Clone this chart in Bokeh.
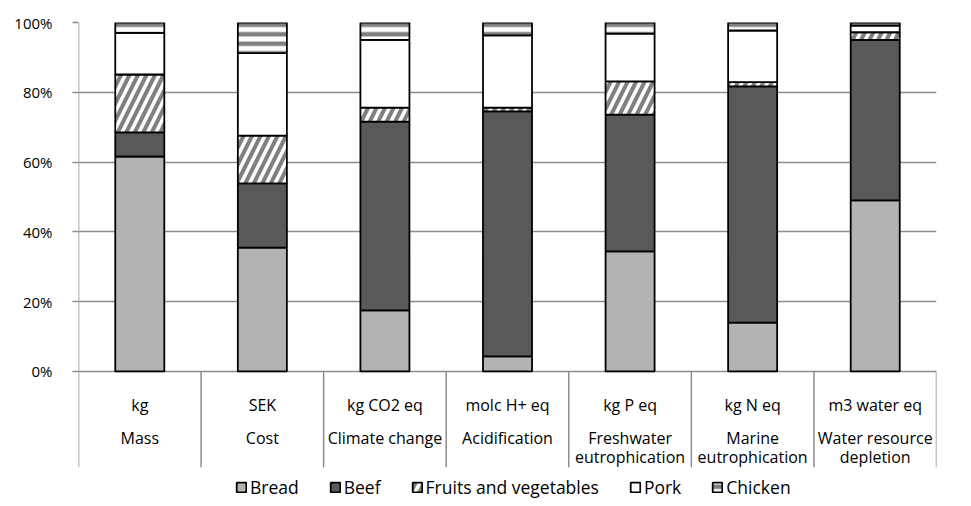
from bokeh.plotting import figure
from bokeh.models import (FactorRange, Range1d, FixedTicker, Legend, LegendItem,
                          ColumnDataSource)
from bokeh.core.properties import value
from bokeh.transform import stack, dodge
from bokeh.embed import file_html
from bokeh.resources import INLINE

# ---- data ----
categories = ["Mass", "Cost", "Climate change", "Acidification",
              "Freshwater eutrophication", "Marine eutrophication",
              "Water resource depletion"]
units = ["kg", "SEK", "kg CO2 eq", "molc H+ eq", "kg P eq", "kg N eq", "m3 water eq"]
name_line1 = ["Mass", "Cost", "Climate change", "Acidification",
              "Freshwater", "Marine", "Water resource"]
name_line2 = ["", "", "", "", "eutrophication", "eutrophication", "depletion"]

series = ["Bread", "Beef", "Fruits and vegetables", "Pork", "Chicken"]
bread = [61.6, 35.5, 17.5, 4.3, 34.4, 14.0, 49.0]
beef = [6.9, 18.4, 54.1, 70.2, 39.2, 67.7, 46.0]
fruits = [16.6, 13.7, 4.0, 1.1, 9.5, 1.2, 2.2]
pork = [11.9, 23.6, 19.4, 20.7, 13.7, 14.8, 1.9]
chicken = [3.0, 8.8, 5.0, 3.7, 3.2, 2.3, 0.9]

y_ticks = [0, 20, 40, 60, 80, 100]
y_tick_labels = ["0%", "20%", "40%", "60%", "80%", "100%"]

FONT = "Open Sans"
GRID = "#8c8c8c"
Y_AXIS_END = -27.5     # where the category block ends
Y_BOTTOM = -37.0       # frame bottom (legend lives below the category block)

src = ColumnDataSource(dict(cat=categories, Bread=bread, Beef=beef,
                            Fruits=fruits, Pork=pork, Chicken=chicken,
                            units=units, n1=name_line1, n2=name_line2))

p = figure(width=955, height=500, output_backend="svg", toolbar_location=None,
           x_range=FactorRange(*categories, range_padding=0),
           y_range=Range1d(Y_BOTTOM, 100), min_border_left=78, min_border_top=22,
           min_border_right=19, min_border_bottom=0)
p.outline_line_color = None
p.background_fill_color = "white"
p.border_fill_color = "white"

# y axis (ticks + labels only; line drawn as a segment)
p.yaxis.ticker = FixedTicker(ticks=y_ticks)
p.yaxis.major_label_overrides = {t: l for t, l in zip(y_ticks, y_tick_labels)}
p.yaxis.axis_line_color = None
p.yaxis.major_tick_line_color = GRID
p.yaxis.major_tick_line_width = 1.5
p.yaxis.major_tick_out = 6
p.yaxis.major_tick_in = 0
p.yaxis.minor_tick_line_color = None
p.yaxis.major_label_text_font = FONT
p.yaxis.major_label_text_font_size = "15px"
p.yaxis.major_label_text_color = "black"
p.yaxis.major_label_standoff = 20
p.ygrid.ticker = FixedTicker(ticks=y_ticks)
p.ygrid.grid_line_color = GRID
p.ygrid.grid_line_width = 1.5
p.xgrid.grid_line_color = None
p.xaxis.visible = False

# stacked bars
fills = ["#b3b3b3", "#595959", "white", "white", "white"]
hatches = [None, None, "/", None, "-"]
keys = ["Bread", "Beef", "Fruits", "Pork", "Chicken"]
renderers = []
bottom_keys = []
for key, fc, h in zip(keys, fills, hatches):
    kw = dict(x="cat", width=0.4, source=src, fill_color=fc,
              line_color="black", line_width=1.8)
    if h:
        kw.update(hatch_pattern=h, hatch_color="#808080",
                  hatch_weight=4.5 if h == "-" else 4,
                  hatch_scale=9.5 if h == "-" else 17)
    r = p.vbar(bottom=stack(*bottom_keys), top=stack(*(bottom_keys + [key])), **kw)
    renderers.append(r)
    bottom_keys.append(key)

# y axis line (left edge of first category)
left_x = dodge("cat", -0.5, range=p.x_range)
p.segment(x0=left_x, x1=left_x, y0=100, y1=Y_AXIS_END,
          source=ColumnDataSource(dict(cat=categories[:1])),
          line_color=GRID, line_width=1.5)

# category separators (right edge of each category)
sep_x = dodge("cat", 0.5, range=p.x_range)
p.segment(x0=sep_x, x1=sep_x, y0=0, y1=Y_AXIS_END, source=src,
          line_color=GRID, line_width=1.5)

# category labels
common = dict(x="cat", source=src, text_font=value(FONT), text_font_size="16px",
              text_color="black", text_align="center", text_baseline="middle")
p.text(y=-9.5, text="units", **common)
p.text(y=-19.0, text="n1", **common)
p.text(y=-24.5, text="n2", **common)

legend = Legend(items=[LegendItem(label=s, renderers=[r]) for s, r in zip(series, renderers)],
                orientation="horizontal", location=(157, 1),
                label_text_font=FONT, label_text_font_size="17.5px",
                label_text_color="black", label_height=22,
                glyph_width=12, glyph_height=12, label_standoff=3, spacing=30,
                padding=0, margin=0, border_line_color=None,
                background_fill_alpha=0)
p.add_layout(legend, "center")

open("out.html", "w").write(file_html(p, INLINE))
